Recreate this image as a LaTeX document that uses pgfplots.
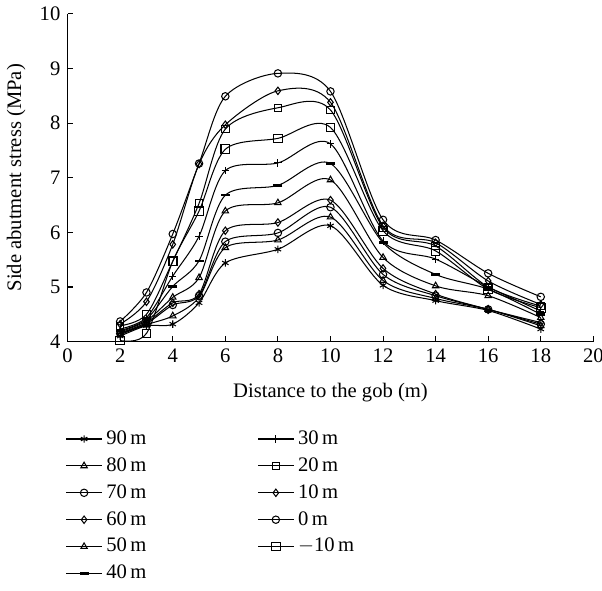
\documentclass[border=0pt]{standalone}
\usepackage{pgfplots}
\pgfplotsset{compat=1.18}
\usepackage{fontspec}
\setmainfont{Liberation Serif}
\begin{document}
\begin{tikzpicture}
\begin{axis}[
  scale only axis,
  width=255pt, height=159pt,
  xmin=0, xmax=20, ymin=4, ymax=10,
  xtick={0,2,...,20}, ytick={4,5,...,10},
  axis x line=bottom, axis y line=left,
  axis line style={-, line width=0.5pt},
  tick align=inside, major tick length=2.5pt,
  tick style={line width=0.5pt, black},
  /pgf/number format/assume math mode=true,
  ticklabel style={font=\normalsize},
  xlabel={Distance to the gob (m)},
  ylabel={Side abutment stress (MPa)},
  label style={font=\normalsize},
  xlabel style={yshift=-3pt},
  every axis plot/.append style={black, solid, line width=0.5pt, smooth, tension=0.5, mark size=1.8pt, mark options={solid, fill=white, black}},
  legend columns=2,
  legend cell align=left,
  legend style={draw=none, at={(0,-0.245)}, anchor=north west, xshift=-4pt, font=\normalsize,
    row sep=0.9pt,
    /tikz/column 2/.style={column sep=52pt}},
]
% 90 m
\addplot[mark=asterisk] coordinates {(2,4.10)(3,4.29)(4,4.32)(5,4.71)(6,5.44)(8,5.69)(10,6.12)(12,5.03)(14,4.75)(16,4.57)(18,4.23)};
\addlegendentry{90\,m}
% 30 m
\addplot[mark=+] coordinates {(2,4.23)(3,4.44)(4,5.20)(5,5.93)(6,7.13)(8,7.27)(10,7.62)(12,5.84)(14,5.51)(16,5.00)(18,4.56)};
\addlegendentry{30\,m}
% 80 m
\addplot[mark=triangle] coordinates {(2,4.13)(3,4.31)(4,4.47)(5,4.81)(6,5.72)(8,5.86)(10,6.28)(12,5.12)(14,4.79)(16,4.59)(18,4.29)};
\addlegendentry{80\,m}
% 20 m
\addplot[mark=square] coordinates {(2,4.29)(3,4.50)(4,5.47)(5,6.53)(6,7.89)(8,8.28)(10,8.24)(12,6.09)(14,5.75)(16,5.00)(18,4.65)};
\addlegendentry{20\,m}
% 70 m
\addplot[mark=o] coordinates {(2,4.15)(3,4.33)(4,4.67)(5,4.84)(6,5.83)(8,5.99)(10,6.46)(12,5.23)(14,4.84)(16,4.59)(18,4.32)};
\addlegendentry{70\,m}
% 10 m
\addplot[mark=diamond] coordinates {(2,4.32)(3,4.73)(4,5.78)(5,7.25)(6,7.97)(8,8.59)(10,8.38)(12,6.12)(14,5.81)(16,5.11)(18,4.68)};
\addlegendentry{10\,m}
% 60 m
\addplot[mark=diamond] coordinates {(2,4.16)(3,4.35)(4,4.71)(5,4.87)(6,6.03)(8,6.18)(10,6.59)(12,5.34)(14,4.87)(16,4.59)(18,4.35)};
\addlegendentry{60\,m}
% 0 m
\addplot[mark=o] coordinates {(2,4.37)(3,4.90)(4,5.97)(5,7.26)(6,8.49)(8,8.91)(10,8.58)(12,6.23)(14,5.86)(16,5.25)(18,4.82)};
\addlegendentry{0\,m}
% 50 m
\addplot[mark=triangle] coordinates {(2,4.18)(3,4.38)(4,4.81)(5,5.17)(6,6.39)(8,6.54)(10,6.96)(12,5.54)(14,5.02)(16,4.84)(18,4.44)};
\addlegendentry{50\,m}
% -10 m
\addplot[mark=square, mark size=2.1pt] coordinates {(2,4.02)(3,4.15)(4,5.47)(5,6.39)(6,7.52)(8,7.72)(10,7.92)(12,6.03)(14,5.66)(16,4.96)(18,4.62)};
\addlegendentry{$-$10\,m}
% 40 m
\addplot[mark=-, mark size=2.2pt, mark options={line width=1.2pt}] coordinates {(2,4.20)(3,4.41)(4,5.01)(5,5.48)(6,6.68)(8,6.86)(10,7.26)(12,5.81)(14,5.23)(16,4.96)(18,4.50)};
\addlegendentry{40\,m}
\end{axis}
\coordinate (BBsw) at (current bounding box.south west);
\coordinate (BBne) at (current bounding box.north east);
\pgfresetboundingbox
\path (BBsw) rectangle ([xshift=4.2pt]current axis.east |- BBne);
\end{tikzpicture}
\end{document}
